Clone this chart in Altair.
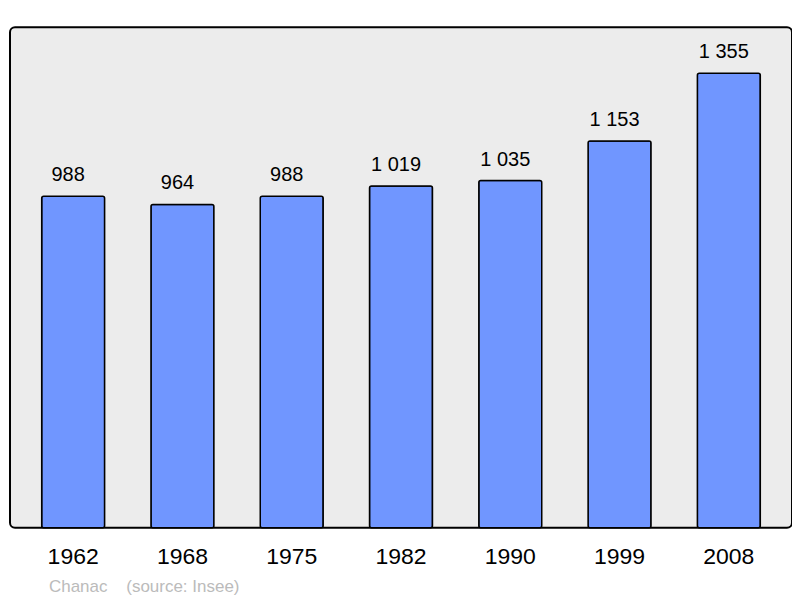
import altair as alt
import pandas as pd

years = ["1962", "1968", "1975", "1982", "1990", "1999", "2008"]
population = [988, 964, 988, 1019, 1035, 1153, 1355]
labels = [f"{v:,}".replace(",", " ") for v in population]

df = pd.DataFrame({"year": years, "pop": population, "label": labels})

FONT = "Liberation Sans"

x = alt.X("year:N", sort=years,
          scale=alt.Scale(paddingInner=0.424, paddingOuter=0.29),
          axis=alt.Axis(title=None, labelAngle=0, domain=False, ticks=False,
                        labelFontSize=23, labelFont=FONT, labelColor="#000000",
                        labelPadding=18))
y = alt.Y("pop:Q", scale=alt.Scale(domain=[0, 1492], nice=False, zero=True),
          axis=None)

bars = alt.Chart(df).mark_bar(color="#7096ff", stroke="#000000", strokeWidth=1.5,
                              cornerRadius=2).encode(x=x, y=y)
text = alt.Chart(df).mark_text(dy=-21, dx=-5, fontSize=20, font=FONT, color="#000000",
                               baseline="middle").encode(x=x, y=y, text="label:N")

chart = (bars + text).properties(
    width=783, height=501,
    autosize=alt.AutoSizeParams(type="none"),
    padding={"left": 2, "top": 19, "right": 0, "bottom": 68},
    title=alt.TitleParams(
        "Chanac\u00a0\u00a0\u00a0\u00a0(source: Insee)",
        orient="bottom", anchor="start", frame="group", dx=39, offset=10,
        fontSize=17, font=FONT, fontWeight="normal", color="#bbbbbb",
    ),
).configure_view(
    stroke="#000000", strokeWidth=2, fill="#ececec", cornerRadius=5
)

chart.save("out.html", embed_options={"renderer": "svg", "actions": False})
